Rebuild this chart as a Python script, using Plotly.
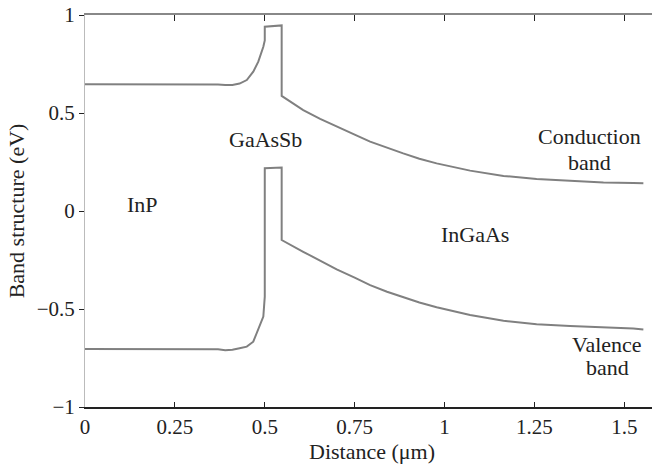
import plotly.graph_objects as go

# Distance along the heterostructure (µm); repeated x values give the abrupt band offsets
distance_um = [0.0, 0.10, 0.20, 0.30, 0.37, 0.39, 0.41, 0.43, 0.45, 0.468, 0.482, 0.496,
               0.500, 0.500, 0.547, 0.547, 0.607, 0.654, 0.700, 0.750, 0.793, 0.840, 0.885,
               0.930, 0.978, 1.071, 1.164, 1.256, 1.349, 1.442, 1.525, 1.553]

# Conduction band edge (eV)
conduction_ev = [0.647, 0.647, 0.647, 0.647, 0.646, 0.643, 0.643, 0.650, 0.668, 0.711, 0.762, 0.838,
                 0.870, 0.940, 0.947, 0.587, 0.515, 0.470, 0.430, 0.390, 0.354, 0.322, 0.294,
                 0.267, 0.243, 0.206, 0.179, 0.163, 0.153, 0.146, 0.143, 0.141]

# Valence band edge (eV)
valence_ev = [-0.704, -0.704, -0.704, -0.704, -0.705, -0.710, -0.708, -0.700, -0.692, -0.667, -0.607, -0.539,
              -0.437, 0.218, 0.222, -0.148, -0.208, -0.254, -0.298, -0.340, -0.378, -0.412, -0.441,
              -0.467, -0.491, -0.531, -0.560, -0.578, -0.587, -0.592, -0.599, -0.604]

x_ticks = [0, 0.25, 0.5, 0.75, 1, 1.25, 1.5]
x_tick_text = ["0", "0.25", "0.5", "0.75", "1", "1.25", "1.5"]
y_ticks = [-1, -0.5, 0, 0.5, 1]
y_tick_text = ["\u22121", "\u22120.5", "0", "0.5", "1"]

# Region and band labels: (text, x, y), one entry per text line
labels = [
    ("InP", 0.161, 0.031),
    ("GaAsSb", 0.501, 0.367),
    ("InGaAs", 1.085, -0.122),
    ("Conduction", 1.403, 0.378),
    ("band", 1.403, 0.250),
    ("Valence", 1.452, -0.679),
    ("band", 1.452, -0.796),
]

FONT = "Liberation Serif"
TEXT = "#222222"
LINE = "#808080"

fig = go.Figure()
for band in (conduction_ev, valence_ev):
    fig.add_trace(go.Scatter(x=distance_um, y=band, mode="lines",
                             line=dict(color=LINE, width=2), showlegend=False,
                             hoverinfo="skip"))

# invisible trace on the top axis so its ticks are drawn
fig.add_trace(go.Scatter(x=[0], y=[0], xaxis="x2", mode="markers",
                         marker=dict(opacity=0), showlegend=False, hoverinfo="skip"))

for text, x, y in labels:
    fig.add_annotation(x=x, y=y, text=text, showarrow=False,
                       font=dict(family=FONT, size=22, color=TEXT))

# x-axis title placed just under the tick labels
fig.add_annotation(xref="paper", yref="paper", x=0.507, y=-0.114,
                   xanchor="center", yanchor="middle", showarrow=False,
                   text="Distance (\u03bcm)", font=dict(family=FONT, size=22, color=TEXT))

x_range = [0, 1.577]
fig.update_layout(
    width=652, height=466,
    margin=dict(l=85, r=0, t=15, b=59),
    paper_bgcolor="white", plot_bgcolor="white",
    font=dict(family=FONT, size=21, color=TEXT),
    xaxis=dict(range=x_range, tickvals=x_ticks, ticktext=x_tick_text,
               ticks="inside", ticklen=5, tickwidth=1, tickcolor=TEXT,
               showline=True, linecolor=TEXT, linewidth=1.5,
               showgrid=False, zeroline=False),
    xaxis2=dict(range=x_range, overlaying="x", side="top", tickvals=x_ticks,
                showticklabels=False, ticks="inside", ticklen=6, tickcolor=TEXT,
                showline=True, linecolor="#888888", linewidth=1.5,
                showgrid=False, zeroline=False),
    yaxis=dict(range=[-1, 1], tickvals=y_ticks, ticktext=y_tick_text,
               ticks="outside", ticklen=5, tickcolor=TEXT,
               showline=True, linecolor="#bbbbbb", linewidth=1,
               showgrid=False, zeroline=False,
               title=dict(text="Band structure (eV)", standoff=6,
                          font=dict(family=FONT, size=22))),
)

fig.write_html("out.html")
